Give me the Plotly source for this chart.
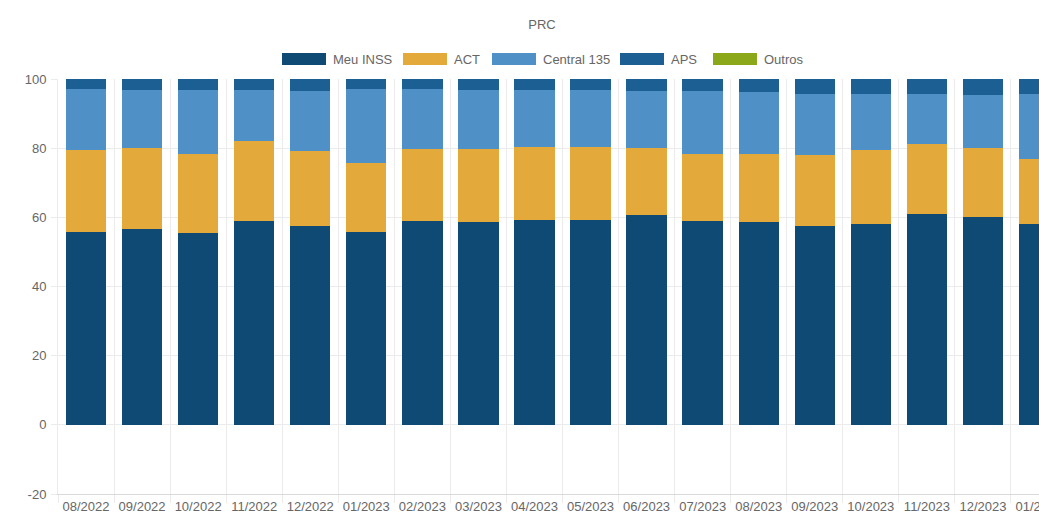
import plotly.graph_objects as go

# ---- data ----
months = ["08/2022", "09/2022", "10/2022", "11/2022", "12/2022", "01/2023",
          "02/2023", "03/2023", "04/2023", "05/2023", "06/2023", "07/2023",
          "08/2023", "09/2023", "10/2023", "11/2023", "12/2023", "01/2024"]

meu_inss = [55.7, 56.6, 55.5, 58.8, 57.6, 55.7, 58.8, 58.6, 59.3, 59.2, 60.7, 58.8,
            58.6, 57.5, 58.1, 61.0, 60.2, 58.1]
act = [23.9, 23.4, 22.8, 23.3, 21.7, 19.9, 20.9, 21.3, 21.0, 21.1, 19.4, 19.6,
       19.7, 20.5, 21.4, 20.1, 19.8, 18.7]
central_135 = [17.5, 16.9, 18.5, 14.7, 17.2, 21.4, 17.3, 16.9, 16.5, 16.5, 16.4, 18.1,
               17.8, 17.8, 16.3, 14.7, 15.5, 19.0]
aps = [2.9, 3.1, 3.2, 3.2, 3.5, 3.0, 3.0, 3.2, 3.2, 3.2, 3.5, 3.5,
       3.9, 4.2, 4.2, 4.2, 4.5, 4.2]
outros = [0.0] * 18

series_names = ["Meu INSS", "ACT", "Central 135", "APS", "Outros"]
series_values = [meu_inss, act, central_135, aps, outros]

y_tick_values = [-20, 0, 20, 40, 60, 80, 100]
y_tick_labels = ["-20", "0", "20", "40", "60", "80", "100"]

# ---- styles ----
colors = ["#0e4a74", "#e4a93b", "#4f90c6", "#1c5f92", "#8ba81b"]
FONT = "Liberation Sans, Arial, sans-serif"
GREY = "#666666"

W, H = 1039, 515
ML, MR, MT, MB = 58, 0, 79, 21
PW, PH = W - ML - MR, H - MT - MB

fig = go.Figure()
for name, vals, col in zip(series_names, series_values, colors):
    fig.add_trace(go.Bar(x=months, y=vals, name=name, marker=dict(color=col, line=dict(width=0)),
                         showlegend=False))

# custom legend (wide colour boxes like the original)
legend_box_left = [282, 403, 492, 620, 713]
box_w, box_top, box_bot = 44, 53, 65


def px_x(p):
    return (p - ML) / PW


def px_y(p):
    return (H - MB - p) / PH


shapes = []
annotations = []
for name, col, bl in zip(series_names, colors, legend_box_left):
    shapes.append(dict(type="rect", xref="paper", yref="paper",
                       x0=px_x(bl), x1=px_x(bl + box_w), y0=px_y(box_bot), y1=px_y(box_top),
                       fillcolor=col, line=dict(width=0), layer="above"))
    annotations.append(dict(xref="paper", yref="paper", x=px_x(bl + box_w + 5), y=px_y((box_top + box_bot) / 2),
                            xanchor="left", yanchor="middle", text=name, showarrow=False,
                            font=dict(family=FONT, size=13, color=GREY)))

fig.update_layout(
    barmode="stack",
    bargap=0.28,
    width=W, height=H, autosize=False,
    margin=dict(l=ML, r=MR, t=MT, b=MB, pad=0),
    paper_bgcolor="white", plot_bgcolor="white",
    font=dict(family=FONT, size=13, color=GREY),
    title=dict(text="PRC", x=542 / W, xanchor="center", y=1 - 24 / H, yanchor="middle",
               font=dict(family=FONT, size=13, color=GREY)),
    shapes=shapes,
    annotations=annotations,
    xaxis=dict(type="category", range=[-0.5, 17.0], tickson="boundaries",
               showgrid=True, gridcolor="#ebebeb", gridwidth=1,
               ticks="outside", ticklen=8, tickcolor="#ebebeb",
               showline=True, linecolor="#d9d9d9", linewidth=1,
               tickfont=dict(family=FONT, size=13, color=GREY), automargin=False, fixedrange=True),
    yaxis=dict(range=[-20, 100], tickmode="array", tickvals=y_tick_values, ticktext=y_tick_labels,
               showgrid=True, gridcolor="#ebebeb", gridwidth=1,
               zeroline=False, showline=True, linecolor="#ebebeb",
               ticks="outside", ticklen=6, tickcolor="#ebebeb", ticklabelstandoff=2,
               tickfont=dict(family=FONT, size=13, color=GREY), automargin=False, fixedrange=True),
)

fig.write_html("out.html", config={"displayModeBar": False})
